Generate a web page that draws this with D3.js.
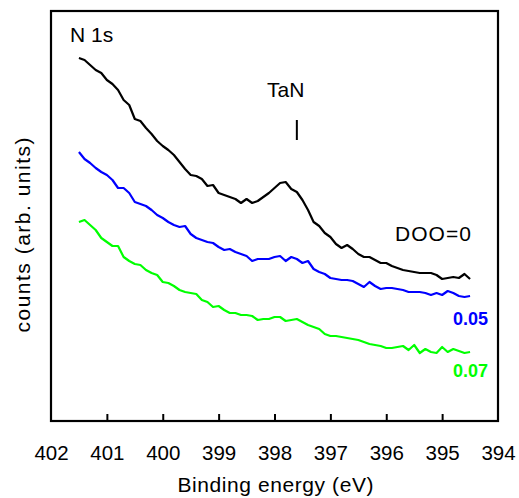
<!DOCTYPE html>
<html>
<head>
<meta charset="utf-8">
<script src="https://cdn.jsdelivr.net/npm/d3@7"></script>
<style>
  html, body { margin: 0; padding: 0; background: #fff; }
  svg text { font-family: "Liberation Sans", Arial, sans-serif; }
</style>
</head>
<body>
<svg id="chart" width="519" height="498"></svg>
<script>
// Binding energy grid (eV)
const energies = [401.5,401.4,401.3,401.2,401.1,401.0,400.9,400.8,400.7,400.6,
  400.5,400.4,400.3,400.2,400.1,400.0,399.9,399.8,399.7,399.6,
  399.5,399.4,399.3,399.2,399.1,399.0,398.9,398.8,398.7,398.6,
  398.5,398.4,398.3,398.2,398.1,398.0,397.9,397.8,397.7,397.6,
  397.5,397.4,397.3,397.2,397.1,397.0,396.9,396.8,396.7,396.6,
  396.5,396.4,396.3,396.2,396.1,396.0,395.9,395.8,395.7,395.6,
  395.5,395.4,395.3,395.2,395.1,395.0,394.9,394.8,394.7,394.6,394.5];

// counts (arb. units), offset traces
const doo0 = [363,361,356,351,348,341,337,331,321,316,
  302,300,293,287,280,275,271,266,259,252,
  246,245,242,235,236,228,226,224,222,218,
  222,218,220,224,228,233,238,239,232,229,
  221,211,199,195,188,184,177,173,176,172,
  167,164,164,161,158,158,155,153,151,150,
  149,148,148,148,146,142,143,144,143,147,142];

const doo005 = [269,262,258,253,249,246,241,233,233,228,
  219,217,215,211,206,203,199,196,194,195,
  187,183,181,179,178,174,171,172,169,167,
  165,160,162,162,162,164,165,160,164,162,
  158,160,152,149,147,143,142,141,141,140,
  137,134,139,135,132,133,133,132,131,129,
  129,129,128,126,128,126,130,128,125,124,125];

const doo007 = [199,201,196,191,183,179,175,175,164,160,
  157,156,151,148,146,139,138,135,131,129,
  128,127,121,119,114,115,111,108,108,106,
  106,105,101,102,102,104,104,100,101,102,
  99,96,94,92,87,85,85,84,83,82,
  81,79,77,76,75,73,73,74,75,71,
  76,68,72,69,68,74,69,72,70,68,69];

const seriesNames = ["DOO=0", "0.05", "0.07"];
const seriesColors = ["#000000", "#0000ff", "#00ff00"];
const xTicks = [402, 401, 400, 399, 398, 397, 396, 395, 394];
const tanMark = {energy: 397.6, from: 281, to: 301};

const svg = d3.select("#chart");
const M = {left: 51, top: 11, right: 498, bottom: 421};

const x = d3.scaleLinear().domain([402, 394]).range([M.left, M.right]);
const y = d3.scaleLinear().domain([0, 410]).range([M.bottom, M.top]);

const font = '"Liberation Sans", Arial, sans-serif';

// x axis
const xAxis = d3.axisBottom(x).tickValues(xTicks).tickSizeInner(-7).tickSizeOuter(0).tickPadding(24).tickFormat(d3.format("d"));
const gx = svg.append("g").attr("transform", `translate(0,${M.bottom})`).call(xAxis);
gx.select(".domain").remove();
gx.selectAll(".tick line").attr("stroke", "#000").attr("stroke-width", 2)
  .filter(d => d === 402 || d === 394).remove();
gx.selectAll(".tick text").attr("font-size", 20.5).attr("font-family", font).attr("fill", "#000");

// frame
svg.append("rect").attr("x", M.left).attr("y", M.top).attr("width", M.right - M.left).attr("height", M.bottom - M.top)
  .attr("fill", "none").attr("stroke", "#000").attr("stroke-width", 2.2);

// lines
const line = d3.line().x((d, i) => x(energies[i])).y(d => y(d));
[doo0, doo005, doo007].forEach((s, i) => {
  svg.append("path").datum(s).attr("d", line).attr("fill", "none")
    .attr("stroke", seriesColors[i]).attr("stroke-width", 2.2).attr("stroke-linejoin", "round");
});

// TaN marker
svg.append("line").attr("x1", x(tanMark.energy)).attr("x2", x(tanMark.energy))
  .attr("y1", y(tanMark.from)).attr("y2", y(tanMark.to)).attr("stroke", "#000").attr("stroke-width", 2);

// annotations
svg.append("text").attr("x", 70).attr("y", 42).attr("font-size", 21).text("N 1s");
svg.append("text").attr("x", 267).attr("y", 97).attr("font-size", 21).text("TaN");
svg.append("text").attr("x", 395).attr("y", 241).attr("font-size", 21)
  .attr("textLength", 76).attr("lengthAdjust", "spacing").text(seriesNames[0]);
svg.append("text").attr("x", 453).attr("y", 325).attr("font-size", 18).attr("font-weight", "bold")
  .attr("fill", seriesColors[1]).text(seriesNames[1]);
svg.append("text").attr("x", 453).attr("y", 377).attr("font-size", 18).attr("font-weight", "bold")
  .attr("fill", seriesColors[2]).text(seriesNames[2]);

// axis titles
svg.append("text").attr("x", 275.5).attr("y", 492).attr("font-size", 21).attr("text-anchor", "middle")
  .attr("textLength", 196).attr("lengthAdjust", "spacing").text("Binding energy (eV)");
svg.append("text").attr("transform", "translate(30,235) rotate(-90)").attr("font-size", 21)
  .attr("text-anchor", "middle").attr("textLength", 195).attr("lengthAdjust", "spacing")
  .text("counts (arb. units)");
</script>
</body>
</html>
